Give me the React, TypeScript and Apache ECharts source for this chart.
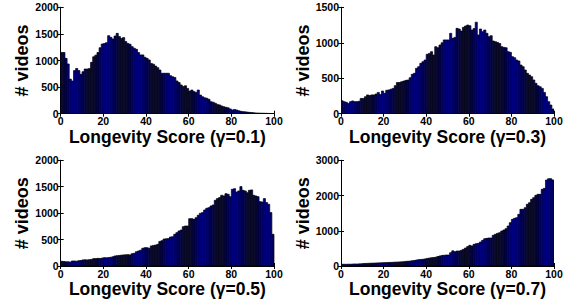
import React, { useEffect, useRef } from "react";
import * as echarts from "echarts";

// Histogram counts, one value per unit bin [i, i+1) over 0..100
const gamma01: number[] = [
  1150, 1150, 1040, 935, 650, 615, 810, 850, 810, 740,
  790, 840, 840, 850, 965, 1070, 1100, 1150, 1240, 1310,
  1320, 1335, 1467, 1435, 1405, 1460, 1510, 1450, 1415, 1430,
  1355, 1320, 1305, 1260, 1230, 1210, 1150, 1105, 1105, 1060,
  1040, 1010, 945, 930, 895, 865, 820, 760, 760, 760,
  760, 715, 695, 680, 615, 585, 540, 510, 525, 475,
  425, 445, 415, 400, 445, 350, 320, 300, 290, 270,
  225, 215, 195, 175, 165, 145, 130, 120, 110, 90,
  70, 80, 70, 55, 45, 38, 35, 30, 25, 22,
  18, 14, 12, 10, 9, 8, 7, 5, 4, 3,
];
const gamma03: number[] = [
  183, 170, 160, 145, 170, 180, 170, 170, 175, 215,
  215, 240, 265, 255, 265, 265, 277, 300, 270, 320,
  287, 330, 335, 345, 357, 395, 440, 440, 450, 460,
  470, 475, 508, 555, 570, 640, 663, 710, 733, 757,
  837, 850, 875, 827, 945, 930, 968, 1000, 1040, 1040,
  1040, 1133, 1062, 1076, 1203, 1194, 1165, 1217, 1236, 1250,
  1240, 1180, 1200, 1290, 1110, 1194, 1156, 1180, 1133, 1086,
  1100, 1025, 1015, 1005, 990, 945, 935, 930, 875, 865,
  804, 790, 757, 743, 686, 663, 616, 569, 545, 522,
  475, 428, 395, 380, 357, 300, 240, 170, 122, 66,
];
const gamma05: number[] = [
  90, 85, 80, 80, 75, 95, 95, 90, 100, 105,
  115, 118, 115, 120, 125, 140, 140, 145, 142, 150,
  158, 155, 160, 165, 175, 190, 195, 200, 205, 210,
  212, 215, 210, 233, 240, 270, 285, 300, 335, 347,
  347, 335, 380, 390, 395, 410, 465, 480, 510, 515,
  520, 549, 555, 600, 631, 663, 681, 745, 757, 757,
  896, 896, 883, 915, 960, 997, 1010, 1060, 1092, 1104,
  1136, 1155, 1243, 1275, 1294, 1338, 1325, 1369, 1357, 1312,
  1451, 1464, 1400, 1420, 1502, 1432, 1420, 1388, 1432, 1440,
  1338, 1325, 1312, 1218, 1211, 1275, 1200, 1167, 1010, 600,
];
const gamma07: number[] = [
  50, 50, 48, 52, 50, 55, 58, 55, 60, 62,
  70, 72, 75, 78, 80, 82, 85, 88, 90, 92,
  95, 98, 100, 102, 105, 110, 112, 115, 118, 122,
  130, 135, 140, 150, 158, 170, 180, 185, 190, 200,
  215, 225, 235, 240, 250, 270, 285, 300, 305, 312,
  312, 378, 430, 405, 425, 425, 445, 473, 510, 550,
  587, 567, 615, 634, 643, 681, 728, 776, 785, 795,
  795, 870, 899, 927, 946, 993, 1022, 1060, 1135, 1230,
  1324, 1353, 1372, 1466, 1608, 1608, 1655, 1750, 1797, 1892,
  1940, 2005, 2034, 2034, 2176, 2204, 2440, 2478, 2478, 2440,
];

const panelTitles: string[] = [
  "Longevity Score (\u03b3=0.1)",
  "Longevity Score (\u03b3=0.3)",
  "Longevity Score (\u03b3=0.5)",
  "Longevity Score (\u03b3=0.7)",
];
const yMaxes: number[] = [2000, 1500, 2000, 3000];
const yIntervals: number[] = [500, 500, 500, 1000];
const xTickInterval = 20;
const yName = "# videos";

const FONT = "'Liberation Sans', Arial, Helvetica, sans-serif";

export default function App() {
  const ref = useRef<HTMLDivElement>(null);

  useEffect(() => {
    if (!ref.current) return;
    const chart = echarts.init(ref.current, undefined, { renderer: "svg" });
    const series = [gamma01, gamma03, gamma05, gamma07];
    const grids = [
      { left: 60.7, top: 7.3, width: 213.3, height: 106.4 },
      { left: 341, top: 7.3, width: 213, height: 106.4 },
      { left: 60.7, top: 160.3, width: 213.3, height: 105.7 },
      { left: 341, top: 160.3, width: 213, height: 105.7 },
    ];
    const lineStyle = { color: "#000", width: 1 };
    const plain = (v: number) => String(v);
    const xAxis: any[] = [];
    const yAxis: any[] = [];
    grids.forEach((_, g) => {
      xAxis.push({
        gridIndex: g,
        type: "value",
        position: "bottom",
        min: 0,
        max: 100,
        interval: xTickInterval,
        axisLine: { show: true, lineStyle },
        axisTick: { show: true, inside: true, length: 3, lineStyle },
        axisLabel: {
          show: true,
          margin: 2,
          color: "#000",
          fontSize: 10.5,
          fontWeight: "bold",
          fontFamily: FONT,
          formatter: plain,
        },
        splitLine: { show: false },
        name: panelTitles[g],
        nameLocation: "middle",
        nameGap: 8,
        nameTextStyle: {
          color: "#000",
          fontSize: 17.5,
          fontWeight: "bold",
          fontFamily: FONT,
          verticalAlign: "top",
        },
      });
      xAxis.push({
        gridIndex: g,
        type: "value",
        position: "top",
        min: 0,
        max: 100,
        interval: xTickInterval,
        axisLine: { show: true, lineStyle },
        axisTick: { show: true, inside: true, length: 3, lineStyle },
        axisLabel: { show: false },
        splitLine: { show: false },
      });
      yAxis.push({
        gridIndex: g,
        type: "value",
        position: "left",
        min: 0,
        max: yMaxes[g],
        interval: yIntervals[g],
        axisLine: { show: true, lineStyle },
        axisTick: { show: true, inside: true, length: 3, lineStyle },
        axisLabel: {
          show: true,
          margin: 2,
          color: "#000",
          fontSize: 10.5,
          fontWeight: "bold",
          fontFamily: FONT,
          formatter: plain,
        },
        splitLine: { show: false },
        name: yName,
        nameLocation: "middle",
        nameGap: 24,
        nameTextStyle: {
          color: "#000",
          fontSize: 18,
          fontWeight: "bold",
          fontFamily: FONT,
        },
      });
      yAxis.push({
        gridIndex: g,
        type: "value",
        position: "right",
        min: 0,
        max: yMaxes[g],
        interval: yIntervals[g],
        axisLine: { show: true, lineStyle },
        axisTick: { show: true, inside: true, length: 3, lineStyle },
        axisLabel: { show: false },
        splitLine: { show: false },
      });
    });

    const seriesOpts = series.map((vals, g) => ({
      type: "custom",
      xAxisIndex: g * 2,
      yAxisIndex: g * 2,
      clip: true,
      z: 1,
      data: vals.map((v, i) => [i, v]),
      encode: { x: 0, y: 1 },
      renderItem: (params: any, api: any) => {
        const x0 = api.value(0);
        const v = api.value(1);
        const p0 = api.coord([x0, v]);
        const p1 = api.coord([x0 + 1, 0]);
        return {
          type: "rect",
          shape: {
            x: p0[0],
            y: p0[1],
            width: p1[0] - p0[0],
            height: p1[1] - p0[1],
          },
          style: { fill: "#000080", stroke: "#000", lineWidth: 0.7 },
        };
      },
    }));

    chart.setOption({
      animation: false,
      backgroundColor: "#fff",
      grid: grids,
      xAxis,
      yAxis,
      series: seriesOpts,
    });
    return () => chart.dispose();
  }, []);

  return (
    <div
      ref={ref}
      style={{ position: "fixed", left: 0, top: 0, width: 570, height: 302 }}
    />
  );
}
